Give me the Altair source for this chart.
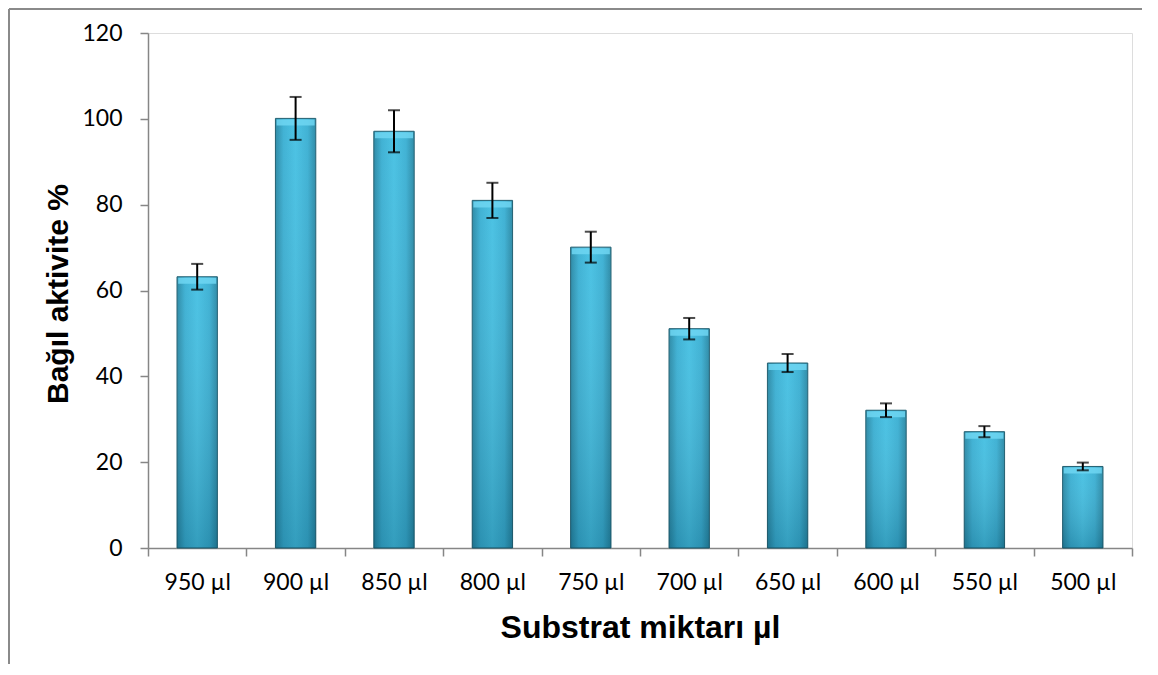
import altair as alt
import pandas as pd

categories = ["950 µl", "900 µl", "850 µl", "800 µl", "750 µl", "700 µl", "650 µl", "600 µl", "550 µl", "500 µl"]
values = [63.2, 100.1, 97.1, 81.0, 70.1, 51.1, 43.1, 32.1, 27.1, 19.0]
errors = [3.0, 5.0, 4.9, 4.1, 3.6, 2.5, 2.1, 1.6, 1.3, 0.9]

df = pd.DataFrame({"cat": categories, "val": values, "err": errors})
df["lo"] = df["val"] - df["err"]
df["hi"] = df["val"] + df["err"]

W, H = 984, 515
FONT_T = "Liberation Sans"
FONT_L = "Lato"

x_enc = alt.X(
    "cat:N", sort=categories,
    scale=alt.Scale(paddingInner=0, paddingOuter=0),
    axis=alt.Axis(
        title="Substrat miktarı µl", tickBand="extent", tickSize=8, labelAngle=0,
        labelFont=FONT_L, labelFontSize=23, labelColor="#000000", labelPadding=15,
        titleFont=FONT_T, titleFontSize=32, titleFontWeight="bold", titleColor="#000000",
        titleX=W / 2, titleY=89, titleBaseline="alphabetic", titleAlign="center",
        domainColor="#868686", tickColor="#868686", domainWidth=1.5, tickWidth=1.5,
    ),
)
y_scale = alt.Scale(domain=[0, 120], nice=False)
y_enc = alt.Y(
    "val:Q", scale=y_scale,
    axis=alt.Axis(
        title="Bağıl aktivite %", values=[0, 20, 40, 60, 80, 100, 120], grid=False,
        tickSize=8, labelFont=FONT_L, labelFontSize=23, labelColor="#000000", labelPadding=18,
        titleFont=FONT_T, titleFontSize=30, titleFontWeight="bold", titleColor="#000000",
        titleX=-90, titleY=H / 2 + 3, titleBaseline="middle", titleAlign="center", titleAngle=270,
        domainColor="#868686", tickColor="#868686", domainWidth=1.5, tickWidth=1.5,
    ),
)

base = alt.Chart(df)

bars = base.mark_bar(
    width=alt.RelativeBandSize(0.41),
    color=alt.Gradient(
        gradient="linear", x1=0, x2=1, y1=0, y2=0,
        stops=[
            alt.GradientStop(color="#2586a3", offset=0),
            alt.GradientStop(color="#37aed2", offset=0.2),
            alt.GradientStop(color="#42bfe2", offset=0.5),
            alt.GradientStop(color="#37aed2", offset=0.8),
            alt.GradientStop(color="#2586a3", offset=1),
        ],
    ),
    stroke="#1d5b6d", strokeWidth=1,
).encode(x=x_enc, y=y_enc)

shade = base.mark_bar(
    width=alt.RelativeBandSize(0.41),
    color=alt.Gradient(
        gradient="linear", x1=0, x2=0, y1=0, y2=1,
        stops=[
            alt.GradientStop(color="rgba(255,255,255,0.05)", offset=0),
            alt.GradientStop(color="rgba(0,40,60,0.22)", offset=1),
        ],
    ),
).encode(x=alt.X("cat:N", sort=categories), y=alt.Y("val:Q", scale=y_scale))

bevel = base.mark_tick(
    color="#6fd6f2", thickness=6, size=38, yOffset=4, opacity=0.85,
).encode(x=alt.X("cat:N", sort=categories), y=alt.Y("val:Q", scale=y_scale))

err_rule = base.mark_rule(color="#000000", strokeWidth=2).encode(
    x=alt.X("cat:N", sort=categories),
    y=alt.Y("lo:Q", scale=y_scale),
    y2="hi:Q",
)
cap_hi = base.mark_tick(color="#000000", thickness=2, size=12).encode(
    x=alt.X("cat:N", sort=categories), y=alt.Y("hi:Q", scale=y_scale)
)
cap_lo = base.mark_tick(color="#000000", thickness=2, size=12).encode(
    x=alt.X("cat:N", sort=categories), y=alt.Y("lo:Q", scale=y_scale)
)

frame_left = base.mark_rule(color="#8a8a8a", strokeWidth=2).encode(
    x=alt.value(-139), y=alt.value(-24), y2=alt.value(H + 200)
)
frame_top = base.mark_rule(color="#8a8a8a", strokeWidth=2).encode(
    x=alt.value(-139), x2=alt.value(W + 40), y=alt.value(-24)
)

chart = alt.layer(bars, shade, bevel, err_rule, cap_hi, cap_lo, frame_left, frame_top).properties(
    width=W, height=H,
    autosize=alt.AutoSizeParams(type="none"),
    padding={"left": 140, "top": 25, "right": 10, "bottom": 116},
).configure_view(fill="#e9eff3", stroke=None).configure(background="#ffffff")

chart.save("out.html", embed_options={"renderer": "svg", "actions": False})
